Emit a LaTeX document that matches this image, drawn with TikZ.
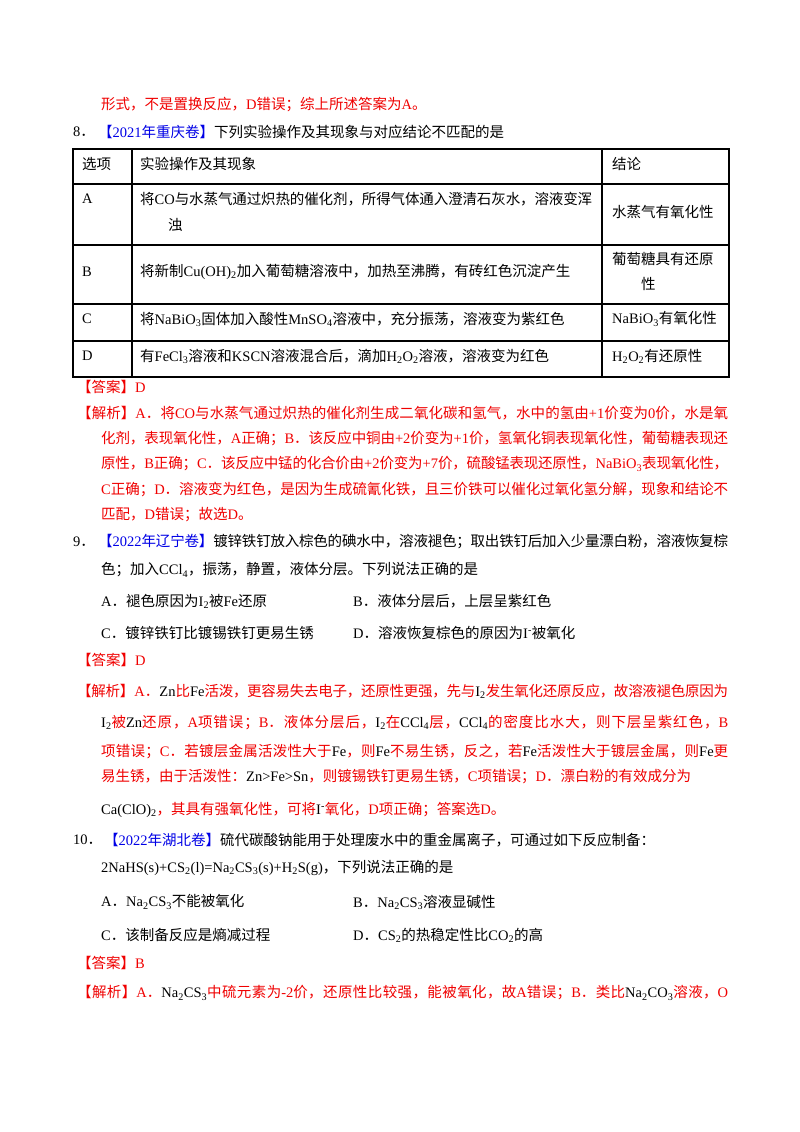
\documentclass[tikz,border=0pt]{standalone}
\usepackage{fontspec}
\setmainfont{Liberation Serif}
\newfontfamily\cjk{Noto Sans CJK SC}
\usepackage{xcolor}
\definecolor{ansred}{RGB}{240,0,0}
\definecolor{srcblue}{RGB}{0,0,230}
\newXeTeXintercharclass\CJKcls
\count255="3000
\loop \XeTeXcharclass\count255=\CJKcls \ifnum\count255<"9FFF \advance\count255 1 \repeat
\count255="FF00
\loop \XeTeXcharclass\count255=\CJKcls \ifnum\count255<"FFEF \advance\count255 1 \repeat
\XeTeXinterchartoks 0 \CJKcls = {\cjk}
\XeTeXinterchartoks 4095 \CJKcls = {\cjk}
\XeTeXinterchartoks \CJKcls 0 = {\rmfamily}
\XeTeXinterchartoks 4095 0 = {\rmfamily}
\XeTeXinterchartoks \CJKcls \CJKcls = {\hskip 0pt plus 1pt minus 1pt}
\newcommand\sbs[1]{\textsubscript{#1}}
\newcommand\sps[1]{\textsuperscript{#1}}
\newcommand\fline[1]{\hbox to 627pt{#1}}
\newcommand\blk[1]{\textcolor{black}{#1}}
\begin{document}
\XeTeXinterchartokenstate=1
\begin{tikzpicture}[x=1pt,y=-1pt,
  txt/.style={anchor=west,inner sep=0pt,font=\fontsize{14.5}{17}\selectfont},
  ans/.style={txt,text=ansred},
  rule/.style={line width=1.1pt}]
\useasboundingbox[fill=white] (0,0) rectangle (800,1132);
% question 8
\node[ans] (l0) at (101,105) {形式，不是置换反应，D错误；综上所述答案为A。};
\node[txt] (q8) at (73,132) {8．};
\node[txt] (q8t) at (98,132) {\textcolor{srcblue}{【2021年重庆卷】}下列实验操作及其现象与对应结论不匹配的是};
% table
\draw[rule] (73,149) rectangle (729,377);
\foreach \y in {184,245,304,341} \draw[rule] (73,\y) -- (729,\y);
\foreach \x in {132,602} \draw[rule] (\x,149) -- (\x,377);
\node[txt] (h1) at (82,164) {选项};
\node[txt] (h2) at (140,164) {实验操作及其现象};
\node[txt] (h3) at (612,164) {结论};
\node[txt] (ra) at (82,199) {A};
\node[txt] (ra1) at (140,199) {\hbox to 452pt{将CO与水蒸气通过炽热的催化剂，所得气体通入澄清石灰水，溶液变浑}};
\node[txt] (ra2) at (168,225) {浊};
\node[txt] (rac) at (612,212) {水蒸气有氧化性};
\node[txt] (rb) at (82,272) {B};
\node[txt] (rb1) at (140,272) {将新制Cu(OH)\sbs{2}加入葡萄糖溶液中，加热至沸腾，有砖红色沉淀产生};
\node[txt] (rbc) at (612,259) {葡萄糖具有还原};
\node[txt] (rbc2) at (641,284) {性};
\node[txt] (rc) at (82,319) {C};
\node[txt] (rc1) at (140,319) {将NaBiO\sbs{3}固体加入酸性MnSO\sbs{4}溶液中，充分振荡，溶液变为紫红色};
\node[txt] (rcc) at (612,319) {NaBiO\sbs{3}有氧化性};
\node[txt] (rd) at (82,356) {D};
\node[txt] (rd1) at (140,356) {有FeCl\sbs{3}溶液和KSCN溶液混合后，滴加H\sbs{2}O\sbs{2}溶液，溶液变为红色};
\node[txt] (rdc) at (612,356) {H\sbs{2}O\sbs{2}有还原性};
\node[ans] (a8) at (77,387) {【答案】D};
\node[ans] (e8a) at (77,413) {\hbox to 651pt{【解析】A．将CO与水蒸气通过炽热的催化剂生成二氧化碳和氢气，水中的氢由+1价变为0价，水是氧}};
\node[ans] (e8b) at (101,439) {\fline{化剂，表现氧化性，A正确；B．该反应中铜由+2价变为+1价，氢氧化铜表现氧化性，葡萄糖表现还}};
\node[ans] (e8c) at (101,464) {\fline{原性，B正确；C．该反应中锰的化合价由+2价变为+7价，硫酸锰表现还原性，NaBiO\sbs{3}表现氧化性，}};
\node[ans] (e8d) at (101,490) {\fline{C正确；D．溶液变为红色，是因为生成硫氰化铁，且三价铁可以催化过氧化氢分解，现象和结论不}};
\node[ans] (e8e) at (101,515) {匹配，D错误；故选D。};
% question 9
\node[txt] (q9) at (73,542) {9．};
\node[txt] (q9a) at (98,542) {\hbox to 630pt{\textcolor{srcblue}{【2022年辽宁卷】}镀锌铁钉放入棕色的碘水中，溶液褪色；取出铁钉后加入少量漂白粉，溶液恢复棕}};
\node[txt] (q9b) at (101,570) {色；加入CCl\sbs{4}，振荡，静置，液体分层。下列说法正确的是};
\node[txt] (o9a) at (101,601) {A．褪色原因为I\sbs{2}被Fe还原};
\node[txt] (o9b) at (353,601) {B．液体分层后，上层呈紫红色};
\node[txt] (o9c) at (101,633) {C．镀锌铁钉比镀锡铁钉更易生锈};
\node[txt] (o9d) at (353,633) {D．溶液恢复棕色的原因为I\sps{-}被氧化};
\node[ans] (a9) at (77,660) {【答案】D};
\node[ans] (e9a) at (77,691) {\hbox to 651pt{【解析】A．\blk{Zn}比\blk{Fe}活泼，更容易失去电子，还原性更强，先与\blk{I\sbs{2}}发生氧化还原反应，故溶液褪色原因为}};
\node[ans] (e9b) at (101,722) {\fline{\blk{I\sbs{2}}被\blk{Zn}还原，A项错误；B．液体分层后，\blk{I\sbs{2}}在\blk{CCl\sbs{4}}层，\blk{CCl\sbs{4}}的密度比水大，则下层呈紫红色，B}};
\node[ans] (e9c) at (101,752) {\fline{项错误；C．若镀层金属活泼性大于\blk{Fe}，则\blk{Fe}不易生锈，反之，若\blk{Fe}活泼性大于镀层金属，则\blk{Fe}更}};
\node[ans] (e9d) at (101,777) {易生锈，由于活泼性：\blk{Zn>Fe>Sn}，则镀锡铁钉更易生锈，C项错误；D．漂白粉的有效成分为};
\node[ans] (e9e) at (101,810) {\blk{Ca(ClO)\sbs{2}}，其具有强氧化性，可将\blk{I\sps{-}}氧化，D项正确；答案选D。};
% question 10
\node[txt] (q10) at (73,840) {10．};
\node[txt] (q10a) at (104,840) {\textcolor{srcblue}{【2022年湖北卷】}硫代碳酸钠能用于处理废水中的重金属离子，可通过如下反应制备：};
\node[txt] (q10b) at (101,868) {2NaHS(s)+CS\sbs{2}(l)=Na\sbs{2}CS\sbs{3}(s)+H\sbs{2}S(g)，下列说法正确的是};
\node[txt] (o10a) at (101,902) {A．Na\sbs{2}CS\sbs{3}不能被氧化};
\node[txt] (o10b) at (353,902) {B．Na\sbs{2}CS\sbs{3}溶液显碱性};
\node[txt] (o10c) at (101,935) {C．该制备反应是熵减过程};
\node[txt] (o10d) at (353,935) {D．CS\sbs{2}的热稳定性比CO\sbs{2}的高};
\node[ans] (a10) at (77,963) {【答案】B};
\node[ans] (e10a) at (77,993) {\hbox to 651pt{【解析】A．\blk{Na\sbs{2}CS\sbs{3}}中硫元素为-2价，还原性比较强，能被氧化，故A错误；B．类比\blk{Na\sbs{2}CO\sbs{3}}溶液，O}};
\end{tikzpicture}
\end{document}
